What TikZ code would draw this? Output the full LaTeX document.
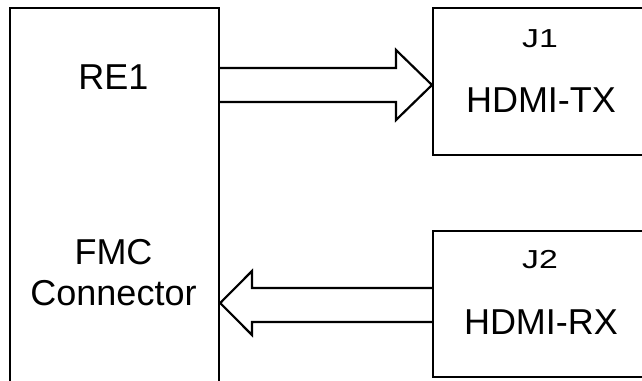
\documentclass[tikz,border=0pt]{standalone}
\usepackage{fontspec}
\setmainfont{Liberation Sans}
\usetikzlibrary{calc}
\begin{document}
\begin{tikzpicture}[x=1pt,y=-1pt,
  blk/.style={draw,line width=2.2pt,inner sep=0pt,anchor=north west},
  big/.style={font=\fontsize{36}{40}\selectfont,anchor=base,inner sep=0pt},
  small/.style={font=\fontsize{26}{30}\selectfont,anchor=base,inner sep=0pt,xscale=1.3},
  barrow/.style={draw,line width=2.2pt,line join=miter}]
\useasboundingbox (0,0) rectangle (642,380);
\clip (0,0) rectangle (642,380);
\fill[white] (0,0) rectangle (642,380);
\node[blk,minimum width=209pt,minimum height=385pt] (re) at (9,7) {};
\node[blk,minimum width=220pt,minimum height=147pt] (j1) at (432,7) {};
\node[blk,minimum width=220pt,minimum height=146pt] (j2) at (432,230) {};
\node[big] (t1) at (113.5,89) {RE1};
\node[big] (t2) at (113.5,264) {FMC};
\node[big] (t3) at (113.5,305) {Connector};
\node[small] (t4) at (540,47) {J1};
\node[big] (t5) at (541,112) {HDMI-TX};
\node[small] (t6) at (540,268) {J2};
\node[big] (t7) at (541,334) {HDMI-RX};
% TX arrow from RE1 box to J1
\draw[barrow]
  (re.east |- 0,68) -- (396,68) -- (396,50) -- (j1.west |- 0,85) -- (396,120) -- (396,102) -- (re.east |- 0,102);
% RX arrow from J2 to RE1 box
\draw[barrow]
  (j2.west |- 0,288) -- (252,288) -- (252,271) -- (re.east |- 0,303) -- (252,335) -- (252,322) -- (j2.west |- 0,322);
\end{tikzpicture}
\end{document}
